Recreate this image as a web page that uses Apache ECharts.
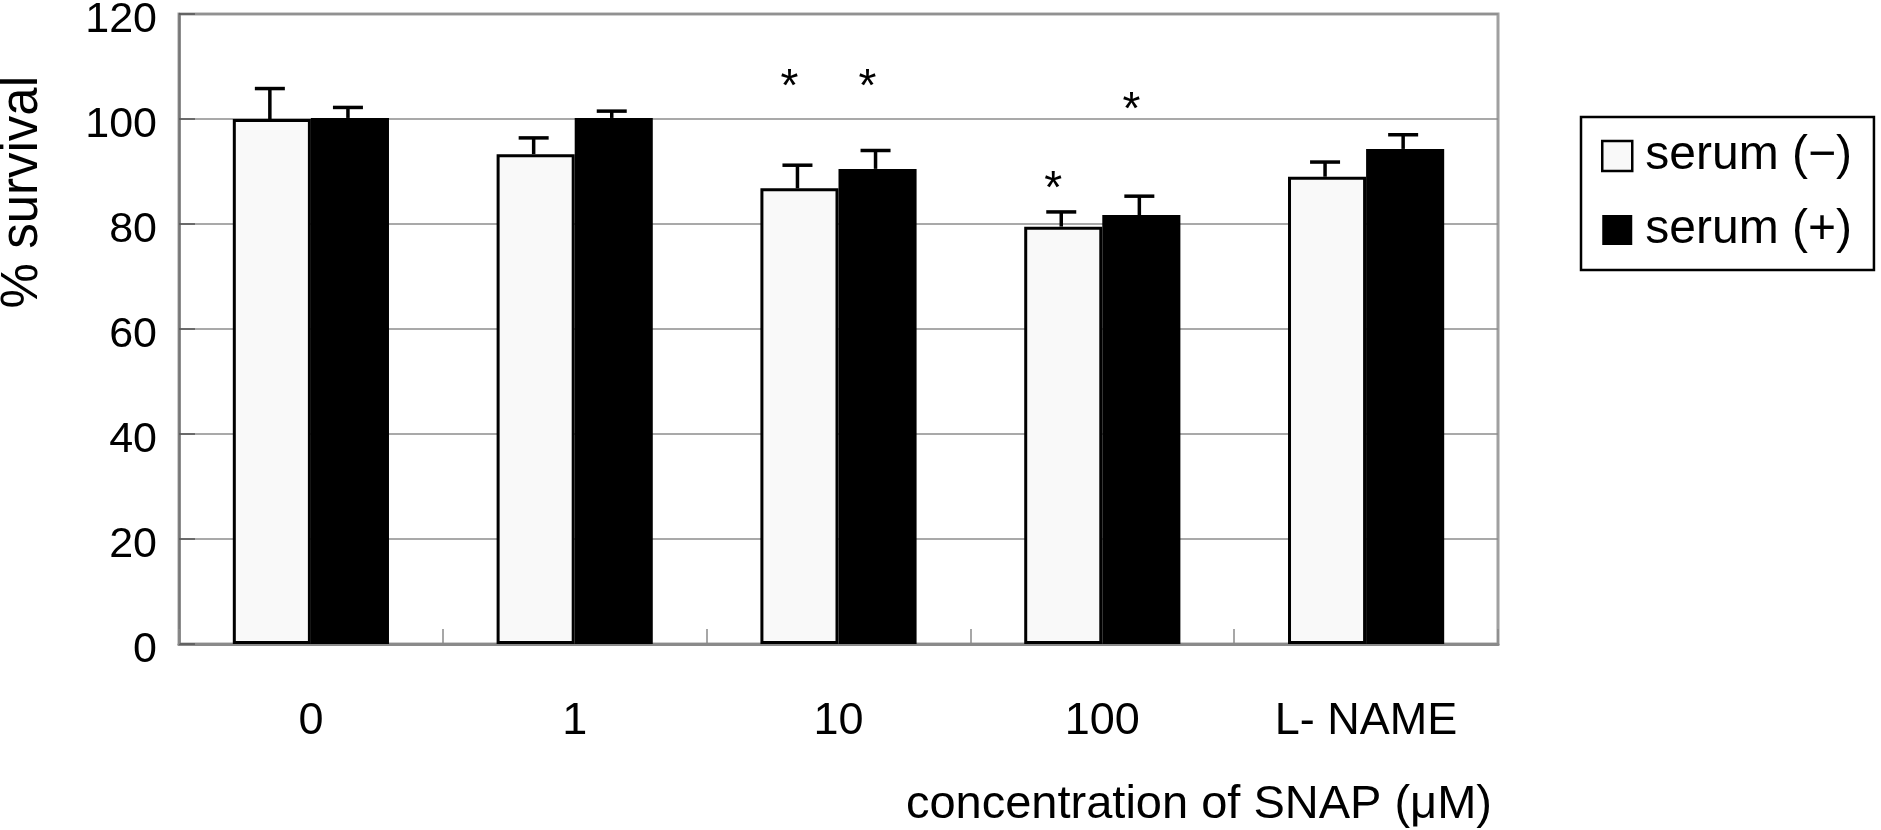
<!DOCTYPE html>
<html>
<head>
<meta charset="utf-8">
<script src="https://cdn.jsdelivr.net/npm/echarts@6/dist/echarts.min.js"></script>
<style>
html,body{margin:0;padding:0;background:#fff;}
#chart{width:1881px;height:830px;}
</style>
</head>
<body>
<div id="chart"></div>
<script>
// ---- data ----
const categories = ['0', '1', '10', '100', 'L- NAME'];
const seriesNames = ['serum (\u2212)', 'serum (+)'];
const serumMinus = [100.0, 93.3, 86.8, 79.5, 89.0];
const serumMinusErr = [5.8, 3.1, 4.4, 2.8, 2.8];
const serumPlus = [100.2, 100.2, 90.5, 81.7, 94.3];
const serumPlusErr = [2.0, 1.3, 3.5, 3.6, 2.7];
// significance marks: [category index, height of mark, which bar (-1 = serum(-), 1 = serum(+))]
const asteriskCats = [2, 2, 3, 3];
const asteriskHeights = [107.8, 107.8, 88.4, 103.4];
const asteriskSides = [-1, 1, -1, 1];
const yMin = 0, yMax = 120, yInterval = 20;

// ---- styling ----
const BAR_FRAC = 0.296;
const FONT = "'Liberation Sans', Arial, sans-serif";

function errRenderer(side) {
  return function (params, api) {
    const i = api.value(0), v = api.value(1), e = api.value(2);
    const band = api.size([1, 0])[0];
    const half = band * BAR_FRAC / 2;
    const base = api.coord([i, v]);
    const top = api.coord([i, v + e]);
    const x = base[0] + side * half - 2;
    const cap = 15;
    return {
      type: 'group',
      children: [
        { type: 'line', shape: { x1: x, y1: base[1], x2: x, y2: top[1] }, style: { stroke: '#000', lineWidth: 3.5 } },
        { type: 'line', shape: { x1: x - cap, y1: top[1], x2: x + cap, y2: top[1] }, style: { stroke: '#000', lineWidth: 3.5 } }
      ]
    };
  };
}

function starRenderer(params, api) {
  const i = api.value(0), h = api.value(1), side = api.value(2);
  const band = api.size([1, 0])[0];
  const half = band * BAR_FRAC / 2;
  const p = api.coord([i, h]);
  const fs = 46;
  return {
    type: 'text',
    x: p[0] + side * half - 10,
    y: p[1] + 10,
    style: { text: '*', fontSize: fs, fontFamily: FONT, fill: '#000', align: 'center', verticalAlign: 'middle' }
  };
}

const chart = echarts.init(document.getElementById('chart'), null, { renderer: 'canvas' });
chart.setOption({
  animation: false,
  backgroundColor: '#fff',
  grid: {
    left: 179, right: 383, top: 14, bottom: 186,
    outerBoundsMode: 'none',
    containLabel: false,
    show: true, borderColor: '#a0a0a0', borderWidth: 3, backgroundColor: 'transparent'
  },
  legend: {
    orient: 'vertical',
    left: 1581, top: 117,
    padding: [15, 22, 16, 20],
    itemGap: 26,
    itemWidth: 30, itemHeight: 30,
    borderColor: '#000', borderWidth: 2.5, backgroundColor: '#fff',
    textStyle: { fontSize: 48, fontFamily: FONT, color: '#000', padding: [0, 0, 0, 8] },
    data: [
      { name: seriesNames[0], icon: 'rect', itemStyle: { color: '#f9f9f9', borderColor: '#000', borderWidth: 2.5 } },
      { name: seriesNames[1], icon: 'rect', itemStyle: { color: '#000', borderWidth: 0 } }
    ]
  },
  xAxis: {
    type: 'category',
    data: categories,
    boundaryGap: true,
    name: 'concentration of SNAP (\u03bcM)',
    nameLocation: 'end',
    nameGap: -6,
    nameTextStyle: { fontSize: 47, fontFamily: FONT, color: '#000', align: 'right', verticalAlign: 'top', padding: [138, 0, 0, 0] },
    axisLine: { show: true, lineStyle: { color: '#8a8a8a', width: 3 } },
    axisTick: { show: true, inside: true, length: 15, lineStyle: { color: '#8a8a8a', width: 1.5 } },
    axisLabel: { fontSize: 45, fontFamily: FONT, color: '#000', margin: 55 },
    splitLine: { show: false }
  },
  yAxis: {
    type: 'value',
    min: yMin, max: yMax, interval: yInterval,
    name: '% survival',
    nameLocation: 'end',
    nameRotate: 90,
    nameGap: -62,
    nameTextStyle: { fontSize: 51, fontFamily: FONT, color: '#000', align: 'right', verticalAlign: 'bottom', padding: [0, 0, 131, 0] },
    axisLine: { show: true, lineStyle: { color: '#777', width: 2.5 } },
    axisTick: { show: true, inside: true, length: 16, lineStyle: { color: '#555', width: 1.5 } },
    axisLabel: {
      color: '#000', margin: 22,
      formatter: '{v|{value}}',
      rich: { v: { fontSize: 43, fontFamily: FONT, color: '#000', padding: [12, 0, 0, 0] } }
    },
    splitLine: { show: true, lineStyle: { color: '#8c8c8c', width: 1.5 } }
  },
  series: [
    {
      name: seriesNames[0], type: 'bar', data: serumMinus,
      barWidth: (BAR_FRAC * 100) + '%', barGap: '0%',
      itemStyle: { color: '#f9f9f9', borderColor: '#000', borderWidth: 3 },
      z: 3
    },
    {
      name: seriesNames[1], type: 'bar', data: serumPlus,
      barWidth: (BAR_FRAC * 100) + '%', barGap: '0%',
      itemStyle: { color: '#000', borderColor: '#000', borderWidth: 0 },
      z: 3
    },
    {
      type: 'custom', renderItem: errRenderer(-1), z: 4, silent: true,
      data: serumMinus.map((v, i) => [i, v, serumMinusErr[i]])
    },
    {
      type: 'custom', renderItem: errRenderer(1), z: 4, silent: true,
      data: serumPlus.map((v, i) => [i, v, serumPlusErr[i]])
    },
    {
      type: 'custom', renderItem: starRenderer, z: 5, silent: true,
      data: asteriskCats.map((c, k) => [c, asteriskHeights[k], asteriskSides[k]])
    }
  ]
});
</script>
</body>
</html>
